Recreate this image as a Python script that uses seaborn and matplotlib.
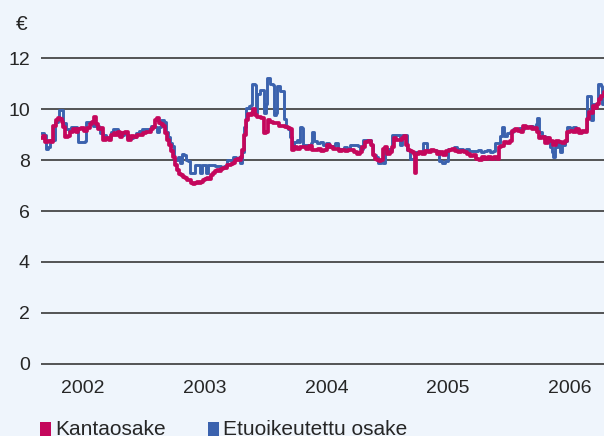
import numpy as np
import pandas as pd
import matplotlib
matplotlib.use("Agg")
import matplotlib.pyplot as plt
import seaborn as sns
from matplotlib.patches import Rectangle

# ---------------- data ----------------
START = "2002-02-27"
END_DAYS = 1689
years = [2002, 2003, 2004, 2005, 2006]
year_labels = ["2002", "2003", "2004", "2005", "2006"]
y_ticks = [0, 2, 4, 6, 8, 10, 12]

# Kantaosake (ordinary share) - days since START, price in EUR
kanta_days = [0, 6, 12, 21, 30, 36, 45, 51, 57, 63, 66, 72, 81, 87, 96, 105, 111, 120, 129, 138,
              147, 153, 159, 165, 171, 180, 186, 195, 204, 210, 219, 225, 231, 237, 243, 252, 261,
              270, 279, 288, 297, 306, 315, 324, 330, 336, 342, 348, 354, 360, 366, 372, 378, 384,
              390, 396, 402, 408, 414, 420, 426, 432, 438, 444, 450, 456, 462, 468, 474, 480, 486,
              492, 498, 504, 510, 516, 522, 528, 534, 540, 546, 552, 558, 564, 570, 576, 582, 588,
              594, 600, 603, 609, 615, 621, 627, 633, 636, 642, 648, 654, 660, 666, 669, 675, 681,
              687, 696, 705, 714, 723, 732, 741, 747, 753, 759, 768, 777, 786, 795, 804, 813, 822,
              831, 840, 849, 858, 867, 876, 885, 894, 903, 912, 921, 930, 939, 948, 957, 963, 972,
              981, 990, 996, 1002, 1008, 1014, 1020, 1026, 1032, 1038, 1047, 1053, 1059, 1065, 1074,
              1083, 1089, 1095, 1101, 1107, 1113, 1119, 1122, 1125, 1134, 1143, 1152, 1161, 1170,
              1179, 1188, 1197, 1206, 1215, 1224, 1233, 1242, 1251, 1260, 1269, 1278, 1287, 1296,
              1305, 1314, 1323, 1332, 1341, 1350, 1359, 1368, 1374, 1380, 1389, 1398, 1407, 1413,
              1422, 1431, 1440, 1446, 1455, 1464, 1473, 1482, 1488, 1494, 1503, 1512, 1521, 1527,
              1536, 1545, 1554, 1563, 1572, 1578, 1587, 1596, 1605, 1614, 1623, 1632, 1638, 1644,
              1650, 1656, 1662, 1668, 1674, 1680, 1689]
kanta_values = [8.85, 8.95, 8.7, 8.75, 8.7, 9.35, 9.55, 9.65, 9.6, 9.5, 9.3, 8.9, 8.95, 9.1, 9.2, 9.1,
                9.2, 9.25, 9.15, 9.25, 9.4, 9.5, 9.7, 9.4, 9.2, 9.25, 8.8, 8.85, 8.8, 9.0, 9.05, 9.0,
                9.1, 8.9, 9.05, 9.1, 8.8, 8.95, 8.9, 9.0, 9.0, 9.05, 9.1, 9.1, 9.2, 9.3, 9.55, 9.65,
                9.45, 9.4, 9.35, 9.05, 8.8, 8.6, 8.35, 8.1, 7.8, 7.6, 7.45, 7.4, 7.35, 7.3, 7.2, 7.2,
                7.1, 7.05, 7.1, 7.15, 7.1, 7.15, 7.2, 7.25, 7.3, 7.25, 7.4, 7.5, 7.55, 7.6, 7.55, 7.65,
                7.7, 7.7, 7.8, 7.8, 7.85, 7.9, 8.0, 8.05, 8.0, 8.1, 8.4, 9.0, 9.55, 9.8, 9.75, 9.85,
                10.0, 9.75, 9.7, 9.7, 9.65, 9.65, 9.05, 9.1, 9.55, 9.5, 9.45, 9.45, 9.35, 9.35, 9.3,
                9.25, 9.2, 8.4, 8.5, 8.45, 8.5, 8.5, 8.45, 8.55, 8.4, 8.4, 8.45, 8.35, 8.4, 8.6, 8.5,
                8.45, 8.45, 8.35, 8.4, 8.35, 8.4, 8.4, 8.3, 8.25, 8.3, 8.5, 8.7, 8.75, 8.6, 8.2, 8.05,
                8.0, 7.95, 8.0, 8.45, 8.5, 8.25, 8.3, 8.5, 8.85, 8.8, 8.8, 8.85, 8.95, 8.6, 8.4, 8.35,
                8.3, 8.25, 7.5, 8.25, 8.3, 8.25, 8.35, 8.3, 8.4, 8.35, 8.25, 8.3, 8.2, 8.35, 8.4, 8.45,
                8.35, 8.3, 8.35, 8.3, 8.25, 8.15, 8.2, 8.05, 8.0, 8.1, 8.05, 8.1, 8.05, 8.1, 8.05, 8.5,
                8.55, 8.7, 8.65, 8.75, 9.15, 9.2, 9.15, 9.1, 9.35, 9.25, 9.3, 9.2, 9.25, 9.1, 8.85, 8.9,
                8.65, 8.85, 8.75, 8.6, 8.75, 8.7, 8.65, 8.75, 9.1, 9.15, 9.1, 9.2, 9.05, 9.15, 9.1, 9.6,
                9.9, 9.85, 10.1, 10.05, 10.2, 10.4, 10.5, 10.65]

# Etuoikeutettu osake (preferred share)
etu_days = [0, 9, 15, 21, 27, 36, 42, 51, 54, 63, 66, 75, 84, 90, 99, 108, 111, 123, 132, 135, 144,
            150, 156, 165, 174, 177, 186, 195, 204, 210, 216, 225, 231, 240, 249, 258, 267, 276, 285,
            294, 303, 312, 321, 330, 339, 348, 354, 360, 369, 375, 381, 387, 393, 399, 405, 411, 417,
            423, 429, 435, 441, 447, 456, 462, 471, 477, 483, 492, 495, 501, 513, 522, 531, 540, 549,
            558, 567, 576, 585, 594, 597, 603, 609, 615, 624, 630, 633, 642, 645, 648, 657, 666, 669,
            675, 678, 687, 696, 699, 705, 708, 717, 726, 729, 735, 741, 747, 753, 759, 768, 774, 777,
            783, 786, 795, 804, 810, 813, 819, 828, 837, 846, 855, 864, 873, 882, 891, 900, 909, 918,
            927, 936, 945, 951, 957, 966, 975, 984, 990, 996, 1005, 1011, 1020, 1026, 1032, 1041,
            1047, 1053, 1062, 1071, 1077, 1083, 1092, 1098, 1107, 1116, 1122, 1131, 1140, 1146, 1152,
            1158, 1167, 1176, 1185, 1194, 1203, 1212, 1221, 1230, 1239, 1248, 1257, 1266, 1275, 1284,
            1293, 1302, 1311, 1320, 1329, 1338, 1347, 1356, 1362, 1371, 1377, 1383, 1389, 1398, 1407,
            1416, 1425, 1434, 1443, 1449, 1458, 1467, 1476, 1485, 1488, 1494, 1503, 1512, 1521, 1527,
            1533, 1536, 1542, 1551, 1557, 1563, 1572, 1578, 1587, 1596, 1605, 1617, 1626, 1635, 1638,
            1647, 1650, 1656, 1665, 1671, 1680, 1683, 1689]
etu_values = [9.05, 9.0, 8.45, 8.5, 8.8, 8.8, 9.5, 9.55, 9.95, 9.95, 9.45, 9.2, 9.15, 9.3, 9.3, 9.25,
              8.7, 8.7, 8.75, 9.5, 9.5, 9.45, 9.35, 9.35, 9.3, 9.05, 9.0, 8.85, 8.9, 9.1, 9.2, 9.2,
              9.1, 9.0, 9.05, 8.85, 8.85, 8.9, 9.05, 9.15, 9.2, 9.2, 9.2, 9.35, 9.3, 9.1, 9.3, 9.55,
              9.5, 9.1, 8.9, 8.65, 8.55, 8.05, 8.0, 8.1, 7.9, 8.25, 8.2, 8.0, 7.95, 7.5, 7.5, 7.8,
              7.8, 7.5, 7.8, 7.8, 7.5, 7.8, 7.8, 7.75, 7.75, 7.7, 7.75, 8.0, 8.0, 8.1, 8.05, 8.1, 7.9,
              8.3, 9.3, 10.05, 10.1, 10.15, 11.0, 10.95, 9.85, 10.6, 10.75, 10.75, 9.85, 10.2, 11.2,
              11.0, 10.95, 9.75, 9.85, 10.9, 10.7, 10.7, 9.6, 9.3, 9.2, 8.9, 8.6, 8.7, 8.8, 8.7, 9.3,
              9.25, 8.6, 8.6, 8.55, 8.65, 9.1, 8.75, 8.65, 8.7, 8.6, 8.65, 8.5, 8.55, 8.65, 8.45,
              8.45, 8.5, 8.45, 8.6, 8.6, 8.6, 8.55, 8.45, 8.8, 8.8, 8.8, 8.6, 8.2, 8.1, 7.9, 7.95,
              7.9, 8.45, 8.45, 8.4, 9.0, 9.0, 9.0, 8.6, 9.0, 9.0, 8.4, 8.05, 8.05, 8.3, 8.3, 8.3,
              8.65, 8.65, 8.35, 8.4, 8.4, 8.35, 7.95, 7.9, 7.95, 8.45, 8.45, 8.5, 8.45, 8.45, 8.4,
              8.45, 8.35, 8.35, 8.35, 8.4, 8.3, 8.35, 8.4, 8.3, 8.35, 8.65, 8.65, 8.95, 9.3, 8.95,
              9.05, 9.1, 9.2, 9.2, 9.25, 9.2, 9.35, 9.3, 9.35, 9.3, 9.4, 9.65, 9.1, 8.95, 8.9, 8.7,
              8.5, 8.3, 8.1, 8.5, 8.7, 8.3, 8.6, 8.75, 9.3, 9.25, 9.3, 9.15, 9.1, 9.15, 9.2, 10.5,
              10.5, 9.55, 10.2, 10.2, 11.0, 10.9, 10.2, 10.25]

series_names = ["Kantaosake", "Etuoikeutettu osake"]

# ---------------- style ----------------
BG = "#EFF5FC"
PINK = "#C4075C"
BLUE = "#3B62AE"
GRID = "#383838"
TXT = "#262626"

sns.set_style("white", {"axes.facecolor": BG, "figure.facecolor": BG})
plt.rcParams["font.family"] = ["Liberation Sans", "DejaVu Sans"]

start = pd.Timestamp(START)
kanta = pd.DataFrame({"date": start + pd.to_timedelta(kanta_days, unit="D"), "value": kanta_values})
etu = pd.DataFrame({"date": start + pd.to_timedelta(etu_days, unit="D"), "value": etu_values})

fig = plt.figure(figsize=(6.04, 4.36), dpi=100)
fig.patch.set_facecolor(BG)
ax = fig.add_axes([41 / 604, 0.1564, 563 / 604, 0.7193])
ax.set_facecolor(BG)

sns.lineplot(data=etu, x="date", y="value", ax=ax, color=BLUE, lw=2.1,
             drawstyle="steps-post", estimator=None, legend=False, zorder=3)
sns.lineplot(data=kanta, x="date", y="value", ax=ax, color=PINK, lw=2.7,
             drawstyle="steps-post", estimator=None, legend=False, zorder=4)

ax.set_ylim(-0.15, 12.15)
ax.set_xlim(start, start + pd.Timedelta(days=END_DAYS))
ax.set_yticks(y_ticks)
ax.set_yticklabels([str(v) for v in y_ticks])
ax.set_xticks([pd.Timestamp(f"{y}-07-02") for y in years])
ax.set_xticklabels(year_labels)
ax.tick_params(axis="y", length=0, pad=8, labelsize=14, labelcolor=TXT)
ax.tick_params(axis="x", length=0, pad=8.5, labelsize=14, labelcolor=TXT)
ax.yaxis.grid(True, color=GRID, lw=1.2)
ax.xaxis.grid(False)
ax.set_axisbelow(True)
for s in ax.spines.values():
    s.set_visible(False)
ax.set_xlabel("")
ax.set_ylabel("")

fig.text(22 / 604, 1 - 24 / 436, "€", ha="center", va="center", fontsize=15, color=TXT)

# legend
colors = [PINK, BLUE]
xs = [40, 208]
for name, c, x0 in zip(series_names, colors, xs):
    fig.patches.append(Rectangle((x0 / 604, 0), 11 / 604, 14 / 436, transform=fig.transFigure,
                                 facecolor=c, edgecolor="none"))
    fig.text((x0 + 15) / 604, 1.5 / 436, name, ha="left", va="baseline", fontsize=15, color=TXT)

fig.savefig("out.png", dpi=100, facecolor=BG)
